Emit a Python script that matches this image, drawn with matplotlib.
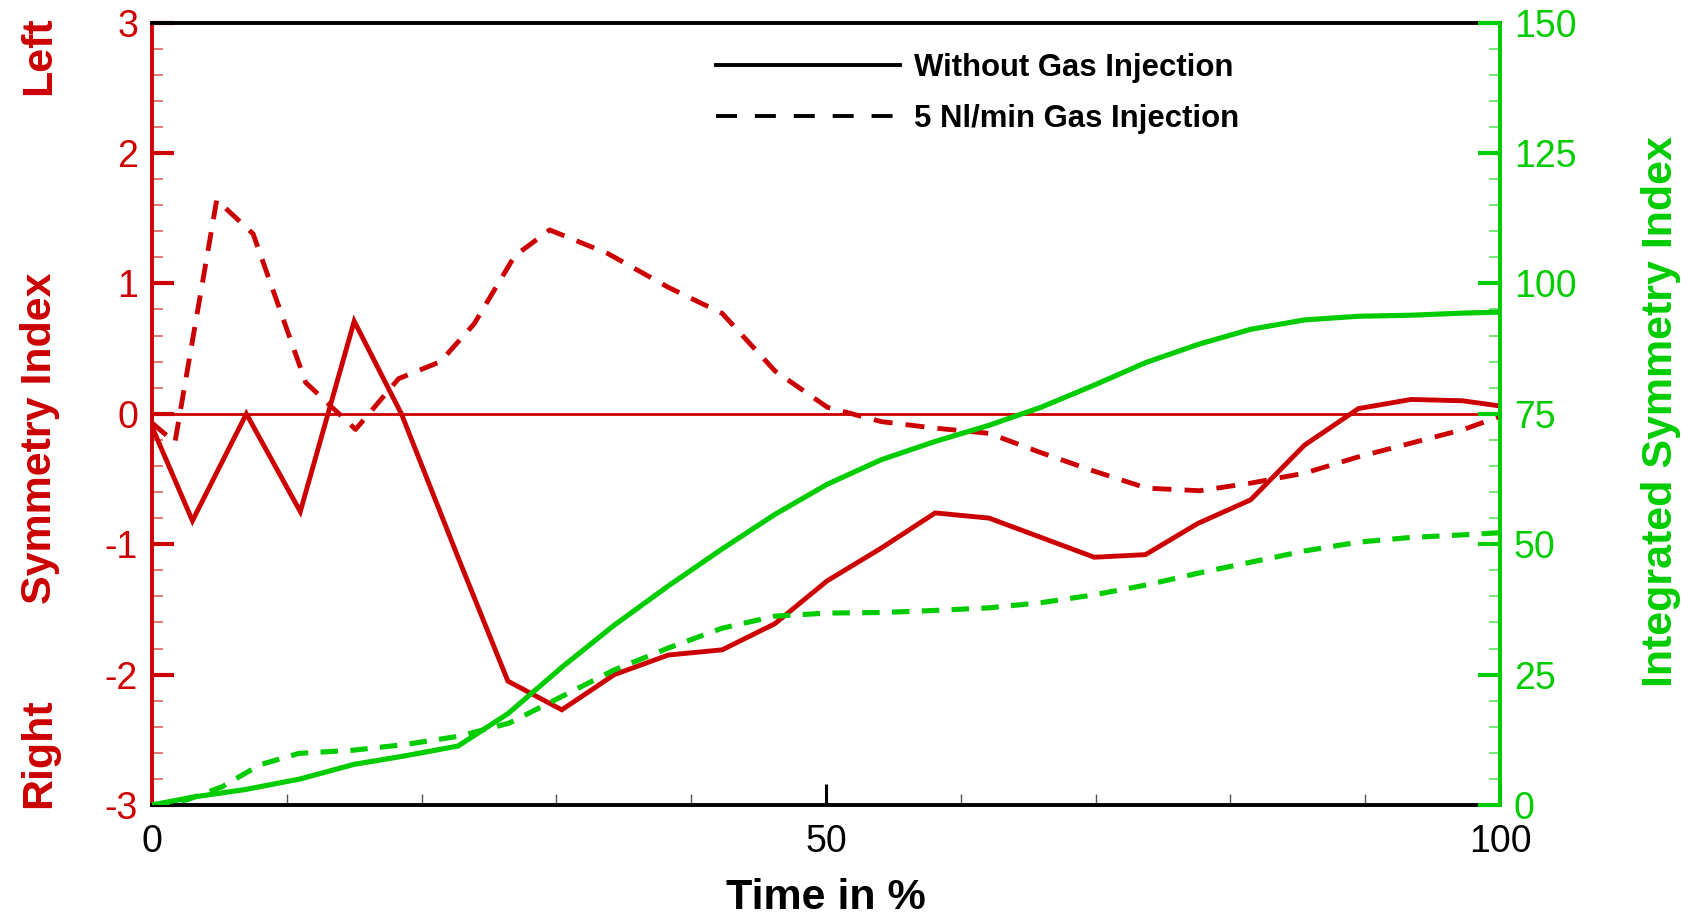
import matplotlib
matplotlib.use("Agg")
import matplotlib.pyplot as plt
from matplotlib.ticker import MultipleLocator, FixedLocator
from matplotlib.lines import Line2D

plt.rcParams['font.family'] = ['Liberation Sans', 'DejaVu Sans']
plt.rcParams['axes.unicode_minus'] = False

RED = '#cc0000'
GREEN = '#00cc00'

# ---- data ----
time_without = [0, 3, 7, 11, 15, 18.5, 22.7, 26.4, 30.4, 34.3, 38.3, 42.3, 46.2, 50.1,
                54.1, 58.1, 62.1, 66, 69.9, 73.7, 77.6, 81.5, 85.5, 89.5, 93.4, 97.2, 100]
si_without = [-0.1, -0.82, 0.0, -0.75, 0.71, 0.0, -1.1, -2.05, -2.27, -2.0, -1.85, -1.81,
              -1.61, -1.28, -1.03, -0.76, -0.8, -0.95, -1.10, -1.08, -0.84, -0.66, -0.24,
              0.04, 0.11, 0.10, 0.06]
isi_without = [0, 1.5, 3.0, 5.0, 7.8, 9.3, 11.3, 17.5, 26.4, 34.5, 42, 49.1, 55.7, 61.5,
               66.2, 69.7, 72.8, 76.3, 80.5, 84.8, 88.3, 91.2, 93, 93.7, 93.9, 94.3, 94.5]

time_gas_si = [0, 1.7, 4.8, 7.5, 11.4, 15.1, 18.3, 21.4, 23.9, 26.9, 29.5, 33.8, 38.3,
               42.3, 46.2, 50.1, 54.1, 58.1, 62.1, 66, 69.9, 73.8, 77.7, 81.6, 85.5, 89.5,
               93.4, 97.3, 100]
si_gas = [-0.07, -0.22, 1.64, 1.38, 0.24, -0.12, 0.27, 0.40, 0.69, 1.21, 1.41, 1.23, 0.97,
          0.77, 0.33, 0.05, -0.06, -0.11, -0.15, -0.30, -0.44, -0.57, -0.59, -0.53, -0.455,
          -0.33, -0.225, -0.12, -0.02]

time_gas_isi = [0, 2.6, 5.2, 8, 10.9, 14.9, 18.8, 22.8, 26.5, 30.4, 34.3, 38.3, 42.3, 46.2,
                50.1, 54.1, 58.1, 62.1, 66, 69.9, 73.8, 77.7, 81.6, 85.5, 89.5, 93.4, 97.3, 100]
isi_gas = [0, 1, 3.5, 7.7, 9.9, 10.5, 11.6, 13.2, 15.7, 20.8, 25.9, 30.1, 33.9, 36.2, 36.8,
           36.9, 37.3, 37.8, 38.8, 40.3, 42.2, 44.5, 46.6, 48.7, 50.4, 51.3, 51.8, 52.2]

x_major = [0, 50, 100]
legend_labels = ['Without Gas Injection', '5 Nl/min Gas Injection']

# ---- figure ----
fig = plt.figure(figsize=(16.88, 9.19), dpi=100)
ax_rect = [0.09005, 0.12405, 0.79858, 0.85136]
ax = fig.add_axes(ax_rect)
ax2 = ax.twinx()

ax.set_xlim(0, 100)
ax.set_ylim(-3, 3)
ax2.set_ylim(0, 150)

ax.axhline(0, color=RED, lw=2.0, zorder=1)

ax.plot(time_without, si_without, color=RED, lw=3.5, solid_joinstyle='miter', zorder=3)
ax.plot(time_gas_si, si_gas, color=RED, lw=3.5, dashes=(3.9, 2.7), zorder=3)
ax2.plot(time_without, isi_without, color=GREEN, lw=3.7, zorder=3)
ax2.plot(time_gas_isi, isi_gas, color=GREEN, lw=3.7, dashes=(3.4, 2.4), zorder=3)

# spines
for s in ['top', 'bottom']:
    ax.spines[s].set_color('black')
    ax.spines[s].set_linewidth(2.8)
    ax2.spines[s].set_visible(False)
ax.spines['left'].set_color(RED)
ax.spines['left'].set_linewidth(2.8)
ax.spines['right'].set_visible(False)
ax2.spines['left'].set_visible(False)
ax2.spines['right'].set_color(GREEN)
ax2.spines['right'].set_linewidth(2.8)

# ticks
ax.xaxis.set_major_locator(FixedLocator(x_major))
ax.xaxis.set_minor_locator(MultipleLocator(10))
ax.tick_params(axis='x', which='major', direction='in', length=15, width=2.2,
               colors='black', labelsize=27, pad=14, top=False)
ax.tick_params(axis='x', which='minor', direction='in', length=8, width=1.0,
               color='#555555', top=False)

ax.yaxis.set_major_locator(MultipleLocator(1))
ax.yaxis.set_minor_locator(MultipleLocator(0.2))
ax.tick_params(axis='y', which='major', direction='in', length=16, width=3.0,
               color=RED, labelcolor=RED, labelsize=27, pad=10, right=False)
ax.tick_params(axis='y', which='minor', direction='in', length=8, width=1.2,
               color='#e06060', right=False)

ax2.yaxis.set_major_locator(MultipleLocator(25))
ax2.yaxis.set_minor_locator(MultipleLocator(5))
ax2.tick_params(axis='y', which='major', direction='in', length=16, width=3.0,
                color=GREEN, labelcolor=GREEN, labelsize=27, pad=10)
ax2.tick_params(axis='y', which='minor', direction='in', length=8, width=1.2,
                color='#60e060')

# labels
x_center = ax_rect[0] + ax_rect[2] / 2
fig.text(x_center, 1 - 898 / 919, 'Time in %', ha='center', va='center',
         fontsize=31, fontweight='bold', color='black')
fig.text(50.6 / 1688, 1 - 56 / 919, 'Left', rotation=90, rotation_mode='anchor',
         ha='center', va='baseline', fontsize=31, fontweight='bold', color=RED)
fig.text(50.6 / 1688, 1 - 438 / 919, 'Symmetry Index', rotation=90, rotation_mode='anchor',
         ha='center', va='baseline', fontsize=31, fontweight='bold', color=RED)
fig.text(50.6 / 1688, 1 - 753 / 919, 'Right', rotation=90, rotation_mode='anchor',
         ha='center', va='baseline', fontsize=31, fontweight='bold', color=RED)
fig.text(1672 / 1688, 1 - 412 / 919, 'Integrated Symmetry Index', rotation=90,
         rotation_mode='anchor', ha='center', va='baseline', fontsize=31,
         fontweight='bold', color=GREEN)

# legend
handles = [Line2D([], [], color='black', lw=2.8),
           Line2D([], [], color='black', lw=2.8, dashes=(5.4, 4.6))]
leg = ax.legend(handles, legend_labels, loc='upper left',
                bbox_to_anchor=(716 / 1688, 1 - 53 / 919), bbox_transform=fig.transFigure,
                frameon=False, fontsize=22.4, handlelength=5.9, handletextpad=0.45,
                labelspacing=0.68, borderpad=0, borderaxespad=0)
for t in leg.get_texts():
    t.set_fontweight('bold')

fig.savefig('out.png', dpi=100)
